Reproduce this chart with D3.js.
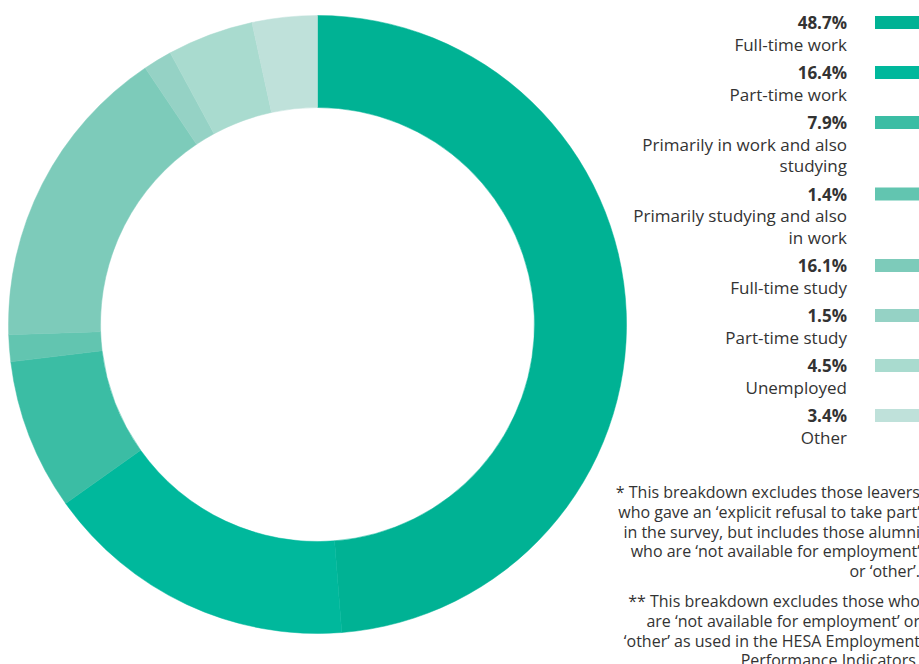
<!DOCTYPE html>
<html>
<head>
<meta charset="utf-8">
<script src="https://cdn.jsdelivr.net/npm/d3@7"></script>
<style>
  body { margin: 0; background: #fff; }
  svg { display: block; font-family: "Open Sans", sans-serif; }
</style>
</head>
<body>
<div id="chart"></div>
<script>
(function() {
  var width = 919
  var height = 664

  // chart data
  var categories = ['Full-time work', 'Part-time work', 'Primarily in work and also studying',
    'Primarily studying and also in work', 'Full-time study', 'Part-time study', 'Unemployed', 'Other']
  var labelLines = [['Full-time work'], ['Part-time work'], ['Primarily in work and also', 'studying'],
    ['Primarily studying and also', 'in work'], ['Full-time study'], ['Part-time study'], ['Unemployed'], ['Other']]
  var values = [48.7, 16.4, 7.9, 1.4, 16.1, 1.5, 4.5, 3.4]
  var colours = ['#00b294', '#00b89c', '#3bbda4', '#62c5b0', '#7dcbba', '#95d2c5', '#a9dbcf', '#bfe1da']
  var notes = [
    ['* This breakdown excludes those leavers', 'who gave an \u2018explicit refusal to take part\u2019',
      'in the survey, but includes those alumni', 'who are \u2018not available for employment\u2019', 'or \u2018other\u2019.'],
    ['** This breakdown excludes those who', 'are \u2018not available for employment\u2019 or',
      '\u2018other\u2019 as used in the HESA Employment', 'Performance Indicators.']
  ]

  var svg = d3.select('#chart')
    .append('svg')
    .attr('width', width)
    .attr('height', height)

  var colour = d3.scaleOrdinal().domain(categories).range(colours)

  // the donut
  var pie = d3.pie().sort(null).value(d => d.value)
  var arc = d3.arc().innerRadius(217).outerRadius(309)
  var data = categories.map((c, i) => ({ name: c, value: values[i] }))

  var donut = svg.append('g')
    .attr('transform', 'translate(317.5,324.5)')

  donut.selectAll('path')
    .data(pie(data))
    .enter().append('path')
    .attr('d', arc)
    .attr('fill', d => colour(d.data.name))
    .attr('stroke', d => colour(d.data.name))
    .attr('stroke-width', 0.5)

  // legend, right aligned text with swatch on the far right
  var lineH = 21.5
  var legend = svg.append('g')
  var y = 29
  categories.forEach(function(c, i) {
    var g = legend.append('g').attr('transform', `translate(0,${y})`)
    g.append('rect')
      .attr('x', 875).attr('y', -13)
      .attr('width', 60).attr('height', 13)
      .attr('fill', colour(c))
    g.append('text')
      .attr('x', 847)
      .attr('text-anchor', 'end')
      .attr('font-size', 17)
      .attr('font-weight', 'bold')
      .attr('fill', '#333')
      .text(values[i].toFixed(1) + '%')
    labelLines[i].forEach(function(l, j) {
      g.append('text')
        .attr('x', 847)
        .attr('y', (j + 1) * lineH)
        .attr('text-anchor', 'end')
        .attr('font-size', 17)
        .attr('fill', '#333')
        .text(l)
    })
    y += (labelLines[i].length + 1) * lineH + 7
  })

  // footnotes
  var ny = 498
  notes.forEach(function(para) {
    para.forEach(function(l) {
      svg.append('text')
        .attr('x', 920)
        .attr('y', ny)
        .attr('text-anchor', 'end')
        .attr('font-size', 16)
        .attr('fill', '#333')
        .text(l)
      ny += 19.8
    })
    ny += 10
  })
})()
</script>
</body>
</html>
